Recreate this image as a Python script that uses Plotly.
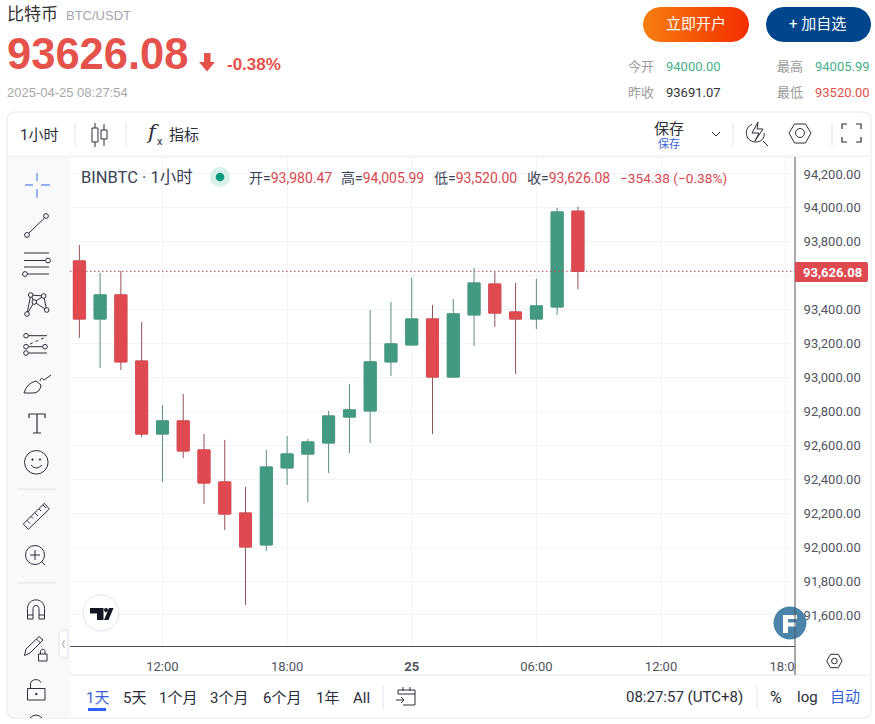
import numpy as np
import plotly.graph_objects as go

# hourly candles, 04-24 08:00 .. 04-25 08:00
times = ['2025-04-24 %02d:00' % h for h in range(8, 24)] + ['2025-04-25 %02d:00' % h for h in range(0, 9)]
opens = [93687, 93345, 93487, 93097, 92667, 92744, 92573, 92384, 92201, 92013, 92467, 92549, 92614,
         92767, 92803, 93092, 93192, 93345, 93003, 93369, 93551, 93386, 93345, 93416, 93980.47]
highs = [93781, 93616, 93628, 93327, 92838, 92903, 92667, 92632, 92355, 92573, 92655, 92638, 92803,
         92962, 93398, 93445, 93587, 93428, 93463, 93646, 93622, 93557, 93581, 94000, 94005.99]
lows = [93233, 93056, 93044, 92649, 92384, 92526, 92254, 92101, 91659, 91977, 92366, 92266, 92437,
        92555, 92614, 93009, 93192, 92667, 92997, 93186, 93298, 93021, 93286, 93369, 93520]
closes = [93345, 93487, 93092, 92667, 92744, 92567, 92378, 92195, 92001, 92472, 92549, 92620, 92773,
          92809, 93092, 93198, 93345, 93003, 93375, 93557, 93380, 93345, 93422, 93976, 93626.08]

price_ticks = [91600, 91800, 92000, 92200, 92400, 92600, 92800, 93000, 93200, 93400, 93600, 93800, 94000, 94200]
# 93,600 sits under the last price tag
price_labels = ['' if p == 93600 else f'{p:,.2f}' for p in price_ticks]
time_ticks = ['2025-04-24 12:00', '2025-04-24 18:00', '2025-04-25 00:00', '2025-04-25 06:00', '2025-04-25 12:00', '2025-04-25 18:00']
time_labels = ['12:00', '18:00', '<b>25</b>', '06:00', '12:00', '18:00']
last_price = 93626.08

W, H = 875, 724
GREEN, RED = '#439a83', '#e0494f'
GREEN_WICK, RED_WICK = '#5b8c77', '#90525b'
INK = '#2a2e39'
AXIS = '#50535e'
BLUE = '#3a62d8'
FONT = 'Roboto, "Noto Sans CJK SC", sans-serif'

fig = go.Figure()

# wicks
fig.add_trace(go.Candlestick(
    x=times, open=opens, high=highs, low=lows, close=closes,
    increasing=dict(line=dict(color=GREEN_WICK, width=1), fillcolor=GREEN),
    decreasing=dict(line=dict(color=RED_WICK, width=1), fillcolor=RED),
    whiskerwidth=0, showlegend=False, hoverinfo='skip',
))
# bodies on top so the outline takes the fill colour
fig.add_trace(go.Candlestick(
    x=times, open=opens, close=closes,
    high=[max(o, c) for o, c in zip(opens, closes)],
    low=[min(o, c) for o, c in zip(opens, closes)],
    increasing=dict(line=dict(color=GREEN, width=1), fillcolor=GREEN),
    decreasing=dict(line=dict(color=RED, width=1), fillcolor=RED),
    whiskerwidth=0, showlegend=False, hoverinfo='skip',
))


def pill(x0, y0, x1, y1):
    r = (y1 - y0) / 2
    a = np.linspace(-np.pi / 2, np.pi / 2, 24)
    xs = list(x1 - r + r * np.cos(a)) + list(x0 + r - r * np.cos(a))
    ys = list(y0 + r + r * np.sin(a)) + list(y0 + r - r * np.sin(a))
    return xs + xs[:1], ys + ys[:1]


# orange button has a gradient, which only a trace can do
bx, by = pill(643, 7, 749, 42)
fig.add_trace(go.Scatter(
    x=bx, y=by, xaxis='x2', yaxis='y2', mode='lines', line=dict(width=0), fill='toself',
    fillgradient=dict(type='horizontal', colorscale=[[0, '#f67f0e'], [1, '#f52d00']]),
    showlegend=False, hoverinfo='skip',
))
bx, by = pill(766, 7, 871, 42)
fig.add_trace(go.Scatter(
    x=bx, y=by, xaxis='x2', yaxis='y2', mode='lines', line=dict(width=0), fill='toself',
    fillcolor='#00468c', showlegend=False, hoverinfo='skip',
))

shapes = []
notes = []


def path(d, color=INK, width=1.0, fill=None, dash=None, layer='above'):
    line = dict(color=color, width=width)
    if dash:
        line['dash'] = dash
    shapes.append(dict(type='path', path=d, xref='x2', yref='y2', line=line,
                       fillcolor=fill or 'rgba(0,0,0,0)', layer=layer))


def rect(x0, y0, x1, y1, fill, line=None, layer='above'):
    shapes.append(dict(type='rect', x0=x0, y0=y0, x1=x1, y1=y1, xref='x2', yref='y2', fillcolor=fill,
                       line=dict(color=line or fill, width=1 if line else 0), layer=layer))


def circle(cx, cy, r, color=INK, width=1.0, fill=None):
    shapes.append(dict(type='circle', x0=cx - r, y0=cy - r, x1=cx + r, y1=cy + r, xref='x2', yref='y2',
                       fillcolor=fill or 'rgba(0,0,0,0)', line=dict(color=color, width=width), layer='above'))


def text(x, y, s, size=13, color=INK, anchor='left', family=None):
    notes.append(dict(x=x, y=y, xref='x2', yref='y2', text=s, showarrow=False, xanchor=anchor, yanchor='middle',
                      borderpad=0, font=dict(size=size, color=color, family=family or FONT)))


# panels
rect(8, 113, 870, 157, '#ffffff', layer='below')
rect(8, 155, 870, 158, '#f6f6f8', layer='below')
rect(8, 158, 70, 717, '#f8f9fa', layer='below')
path('M 15,112 H 863 Q 871,112 871,120 V 710 Q 871,718 863,718 H 15 Q 7,718 7,710 V 120 Q 7,112 15,112 Z', '#e8e8ec', 1)
path('M 70,675 H 870', '#e0e3eb', 1)
rect(795.5, 647, 870, 674.5, '#ffffff')

# header
text(6, 14, '比特币', 17, '#333333')
text(64.5, 15, 'BTC/USDT', 13, '#a5a5ad', family='"Liberation Sans"')
text(6, 54, '<b>93626.08</b>', 43.5, '#e4524b', family='"Liberation Sans"')
path('M 204,53 H 210.5 V 62 H 215 L 207,71.5 L 199,62 H 204 Z', '#e4524b', 0, '#e4524b')
text(226, 64, '<b>-0.38%</b>', 17, '#e4524b', family='"Liberation Sans"')
text(6, 92, '2025-04-25 08:27:54', 13, '#a8a8a8', family='"Liberation Sans"')
text(696, 24, '立即开户', 15, '#ffffff', 'center')
text(817, 24, '+ 加自选', 15, '#ffffff', 'center')
text(627, 66, '今开', 13, '#9a9a9a')
text(722, 66, '94000.00', 13, '#46b08c', 'right')
text(776, 66, '最高', 13, '#9a9a9a')
text(871, 66, '94005.99', 13, '#46b08c', 'right')
text(627, 92, '昨收', 13, '#9a9a9a')
text(722, 92, '93691.07', 13, '#333333', 'right')
text(776, 92, '最低', 13, '#9a9a9a')
text(871, 92, '93520.00', 13, '#e4524b', 'right')

# top toolbar
text(38.5, 135, '1小时', 15, INK, 'center')
for x in (75, 126, 733, 832):
    path(f'M {x},122 V 147', '#e0e3eb', 1)
path('M 95,123 V 128 M 95,142 V 147 M 92,128 H 98 V 142 H 92 Z M 104,124 V 130 M 104,139 V 146 M 101,130 H 107 V 139 H 101 Z')
text(145, 132, '<i>f</i>', 21, INK, family='"DejaVu Serif"')
text(156, 141, 'x', 11, INK)
text(184, 135, '指标', 15, INK, 'center')
text(669, 129, '保存', 15, INK, 'center')
text(669, 144, '保存', 11, BLUE, 'center')
path('M 712,132 L 716,136 L 720,132', INK, 1)
path('M 752,124.5 C 744,127 744,141 755,142 C 761,142.5 765,138 764,133 M 763,141 L 768,146 M 758,122 L 752,133 H 759 L 755,141 L 763,129 H 757 Z')
path('M 789,133 L 794.5,124 H 805.5 L 811,133 L 805.5,143 H 794.5 Z')
circle(800, 133, 4.5)
path('M 842,129 V 124 H 847 M 856,124 H 861 V 129 M 861,137 V 142 H 856 M 847,142 H 842 V 137', INK, 1.2)

# left toolbar
path('M 37,173 V 181 M 37,189 V 198 M 25,185 H 33 M 41,185 H 50', '#7296e6', 1.4)
path('M 29,233 L 44.5,218')
circle(27, 235, 2.4)
circle(46, 216, 2.4)
path('M 24,253 H 49 M 24,260.5 H 45.5 M 24,267 H 49 M 27.5,274 H 49')
circle(48, 260.5, 2.4)
circle(25, 274, 2.4)
path('M 27,314 L 30.7,295 L 34.3,302 L 43.7,296 L 46.7,310 L 34.3,302 L 27,314 M 30.7,295 L 43.7,296')
for cx, cy in ((27, 314), (30.7, 295), (34.3, 302), (43.7, 296), (46.7, 310)):
    circle(cx, cy, 2.3, fill='#f8f9fa')
path('M 28.5,335.7 H 47 M 28.5,346.7 H 42.5 M 28.5,353 H 47')
path('M 30,344 L 46,337', INK, 1, dash='dot')
for cx, cy in ((26, 335.7), (26, 346.7), (45, 346.7), (26, 353)):
    circle(cx, cy, 2.3)
path('M 24,393 Q 27,383 36,381 L 41,385 Q 40,393 33,393 H 24 M 40,381 Q 41,376 44,380 L 51,375')
path('M 29,418 V 414 H 45 V 418 M 37,414 V 433 M 33,433 H 41', INK, 1.2)
circle(36.3, 462.3, 11.8)
circle(32.5, 459.5, 0.7, fill=INK)
circle(40, 459.5, 0.7, fill=INK)
path('M 31,465 Q 36.3,471 42,465')
path('M 17,489 H 56', '#e0e3eb', 1)
path('M 23.3,524 L 28.3,529.3 L 49.3,509 L 44.3,503.3 Z M 27,520.5 L 30,523.5 M 31,516.5 L 33,518.5 M 35,513 L 38,516 M 39,509 L 41,511 M 43,505 L 46,508')
circle(35, 555, 9.5)
path('M 35,550 V 560 M 30,555 H 40 M 41.7,561.7 L 45,565')
path('M 17,583 H 56', '#e0e3eb', 1)
path('M 27.5,619 V 608.5 C 27.5,597 44.5,597 44.5,608.5 V 619 H 39 V 608.5 C 39,604.5 33,604.5 33,608.5 V 619 Z M 27.5,615 H 33 M 39,615 H 44.5')
path('M 24.5,655.5 L 26,649 L 39,636.5 L 43,640 L 30,653 Z M 36.5,639 L 40.5,643')
path('M 38.5,654 H 47 V 661 H 38.5 Z M 40.5,654 V 651.5 C 40.5,648.5 45,648.5 45,651.5 V 654')
path('M 27.5,688.5 H 45 V 700 H 27.5 Z M 30.5,688.5 V 684 C 30.5,679 39,678 41,682.5')
circle(36.3, 694, 0.8, fill=INK)
path('M 30,718 Q 36,712 42,718')

# collapse handle
path('M 62,630 H 65 Q 68,630 68,633 V 655 Q 68,658 65,658 H 62 Q 59,658 59,655 V 633 Q 59,630 62,630 Z', '#e0e3eb', 1, '#ffffff')
path('M 64.5,640 L 62.5,644 L 64.5,648', '#a0a3ad', 1)

# legend row, each pair placed on its own so widths do not add up
text(79.5, 177, 'BINBTC · 1小时', 16.5, '#3a4256')
circle(220, 177, 10, '#d9f0ea', 0, '#d9f0ea')
circle(220, 177, 4.3, '#089981', 0, '#089981')
for x, name, val in ((247.5, '开=', '93,980.47'), (339.5, '高=', '94,005.99'), (432.5, '低=', '93,520.00'), (525.5, '收=', '93,626.08')):
    text(x, 177.5, f'{name}<span style="color:#d9474f">{val}</span>', 14, '#3a4256')
text(619, 177.5, '−354.38 (−0.38%)', 13.7, '#d9474f')

# tv badge
circle(101, 613, 18, '#e0e3eb', 1, '#ffffff')
path('M 90,608 H 103.5 V 620 H 97 V 613.5 H 90 Z', '#131722', 0, '#131722')
circle(106, 610, 2, '#131722', 0, '#131722')
path('M 104,620 L 109,608 H 113.5 L 108.5,620 Z', '#131722', 0, '#131722')

# F logo, price axis edge drawn over it
circle(790, 623, 16.5, '#4a84a8', 0, '#4a84a8')
path('M 783,615 H 797 V 619 H 788 V 622.5 H 796 V 626.5 H 788 V 633 H 783 Z', '#ffffff', 0, '#ffffff')
path('M 795,157 V 675', AXIS, 1)

# last price marker
shapes.append(dict(type='line', xref='x domain', yref='y', x0=0, x1=1, y0=last_price, y1=last_price,
                   line=dict(color='#c2474f', width=1, dash='1.5px,2.5px'), layer='above'))
path('M 795,262 H 866 Q 868,262 868,264 V 280 Q 868,282 866,282 H 795 Z', '#df4a50', 0, '#df4a50')
text(832, 272, '<b>93,626.08</b>', 13, '#ffffff', 'center')

# bottom bar
path('M 826.7,661 L 830.5,654.3 H 838.3 L 842,661 L 838.3,667.7 H 830.5 Z')
circle(834.4, 661, 2.8)
text(97, 698, '1天', 15, BLUE, 'center')
rect(88, 708, 106, 711, '#2962ff')
for x, s in ((134, '5天'), (178, '1个月'), (229, '3个月'), (282, '6个月'), (327, '1年'), (361, 'All')):
    text(x, 698, s, 15, INK, 'center')
path('M 383,685 V 709', '#e0e3eb', 1)
path('M 398,694 V 690 H 415 V 705 H 403 M 398,694 H 415 M 403,687 V 691 M 410,687 V 691 M 396,700 H 404 M 401,697 L 404,700 L 401,703')
text(744, 697, '08:27:57 (UTC+8)', 15, INK, 'right')
path('M 757,685 V 709', '#e0e3eb', 1)
text(776, 697, '%', 16, INK, 'center')
text(807, 697, 'log', 15, INK, 'center')
text(845, 697, '自动', 15, BLUE, 'center')

fig.update_layout(
    width=W, height=H, autosize=False, margin=dict(l=0, r=0, t=0, b=0),
    paper_bgcolor='#ffffff', plot_bgcolor='rgba(0,0,0,0)', showlegend=False,
    font=dict(family=FONT), boxgap=0.18,
    shapes=shapes, annotations=notes,
    xaxis=dict(
        domain=[70 / W, 795 / W], type='date', range=['2025-04-24 07:33', '2025-04-25 18:27'], automargin=False,
        rangeslider=dict(visible=False), tickmode='array', tickvals=time_ticks, ticktext=time_labels,
        tickfont=dict(size=13, color=AXIS), ticks='outside', ticklen=8, tickcolor='rgba(0,0,0,0)',
        showgrid=True, gridcolor='#f0f3fa', gridwidth=1, showline=True, linecolor=AXIS, linewidth=1,
        zeroline=False, anchor='y',
    ),
    yaxis=dict(
        domain=[1 - 646 / H, 1 - 157 / H], range=[91417, 94300], side='right', automargin=False,
        tickmode='array', tickvals=price_ticks, ticktext=price_labels,
        tickfont=dict(size=13, color=AXIS), ticks='outside', ticklen=5, tickcolor='rgba(0,0,0,0)',
        showgrid=True, gridcolor='#f0f3fa', gridwidth=1, showline=False, zeroline=False, anchor='x',
    ),
    # invisible full-page axes in pixels, for the page furniture around the chart
    xaxis2=dict(domain=[0, 1], range=[0, W], visible=False, anchor='y2', fixedrange=True, automargin=False),
    yaxis2=dict(domain=[0, 1], range=[H, 0], visible=False, anchor='x2', fixedrange=True, automargin=False),
)

fig.write_html('out.html', config=dict(displayModeBar=False), post_script="document.body.style.margin='0';")
